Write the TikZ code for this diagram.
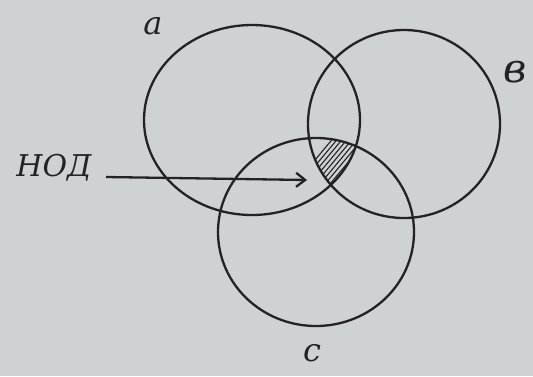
\documentclass[tikz,border=0pt]{standalone}
\usepackage{fontspec}
\newfontfamily\handfont{DejaVu Serif}
\usetikzlibrary{shapes.geometric,arrows.meta}
\definecolor{paper}{RGB}{206,210,210}
\definecolor{ink}{RGB}{35,35,38}
\tikzset{
  ring/.style={draw=ink, line width=2.3pt, ellipse, inner sep=0pt},
  lbl/.style={text=ink, font=\handfont\itshape\fontsize{32}{34}\selectfont, inner sep=0pt},
}
\begin{document}
\begin{tikzpicture}[x=1pt,y=-1pt]
\fill[paper] (0,0) rectangle (533,376);
\useasboundingbox (0,0) rectangle (533,376);
% hatched common part
\begin{scope}
  \clip (252,120) ellipse [x radius=108, y radius=95];
  \clip (404,124) ellipse [x radius=96, y radius=94];
  \clip (316,232) ellipse [x radius=98, y radius=94];
  \foreach \k in {0,5,...,90}
    \draw[ink, line width=1.1pt] (290+\k,190) -- (340+\k,130);
\end{scope}
\node[ring, minimum width=216pt, minimum height=190pt] (A) at (252,120) {};
\node[ring, minimum width=192pt, minimum height=188pt] (B) at (404,124) {};
\node[ring, minimum width=196pt, minimum height=188pt] (C) at (316,232) {};
\node[lbl] (la) at (153,26) {a};
\node[lbl, font=\handfont\itshape\fontsize{40}{42}\selectfont] (lb) at (515,72) {в};
\node[lbl] (lc) at (312,353) {c};
\node[lbl, font=\handfont\itshape\fontsize{30}{32}\selectfont] (nod) at (54,168) {НОД};
\coordinate (tip) at (307,180);
\draw[ink, line width=2.3pt, -{Straight Barb[length=9pt,width=14pt]}] (106,177) -- (tip);
\end{tikzpicture}
\end{document}
